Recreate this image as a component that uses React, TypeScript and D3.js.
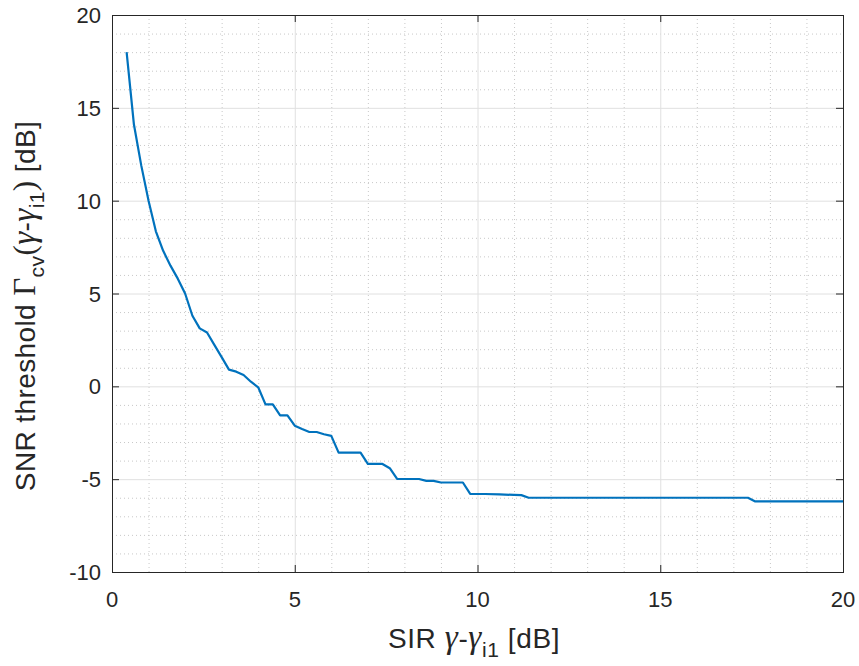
import React, { useEffect, useRef } from "react";
import * as d3 from "d3";

const sirDb = [0.4, 0.6, 0.8, 1.0, 1.2, 1.4, 1.6, 1.8, 2.0, 2.2, 2.4, 2.6, 2.8, 3.0, 3.2, 3.4, 3.6, 3.8, 4.0, 4.2, 4.4, 4.6, 4.8, 5.0, 5.2, 5.4, 5.6, 5.8, 6.0, 6.2, 6.4, 6.6, 6.8, 7.0, 7.2, 7.4, 7.6, 7.8, 8.0, 8.2, 8.4, 8.6, 8.8, 9.0, 9.2, 9.4, 9.6, 9.8, 10.0, 10.2, 10.6, 11.0, 11.2, 11.4, 12, 13, 14, 15, 16, 17, 17.4, 17.6, 18, 19, 20];
const snrThresholdDb = [18.0, 14.1, 11.9, 10.0, 8.35, 7.3, 6.5, 5.8, 5.0, 3.8, 3.12, 2.9, 2.23, 1.57, 0.9, 0.79, 0.61, 0.25, -0.05, -0.97, -0.97, -1.56, -1.56, -2.12, -2.3, -2.46, -2.46, -2.58, -2.67, -3.57, -3.57, -3.57, -3.57, -4.18, -4.18, -4.18, -4.41, -4.99, -4.99, -4.99, -4.99, -5.09, -5.09, -5.18, -5.18, -5.18, -5.18, -5.79, -5.8, -5.8, -5.82, -5.85, -5.86, -6.0, -6.0, -6.0, -6.0, -6.0, -6.0, -6.0, -6.0, -6.2, -6.2, -6.2, -6.2];
const xTicks = [0, 5, 10, 15, 20];
const yTicks = [-10, -5, 0, 5, 10, 15, 20];
const xMinor = d3.range(0, 21, 1);
const yMinor = d3.range(-10, 21, 1);

const W = 859, H = 666;
const L = 112, R = 843, T = 15, B = 572;
const sans = "Liberation Sans, Arial, sans-serif";
const serif = "Liberation Serif, Times New Roman, serif";

export default function App() {
  const ref = useRef<SVGGElement>(null);
  useEffect(() => {
    const g = d3.select(ref.current);
    g.selectAll("*").remove();
    const x = d3.scaleLinear().domain([0, 20]).range([L, R]);
    const y = d3.scaleLinear().domain([-10, 20]).range([B, T]);
    g.append("rect").attr("x", L).attr("y", T).attr("width", R - L).attr("height", B - T).attr("fill", "#fff");
    g.selectAll(".mx").data(xMinor.filter(v => v % 5 !== 0)).enter().append("line")
      .attr("x1", d => x(d) + 0.5).attr("x2", d => x(d) + 0.5).attr("y1", T).attr("y2", B)
      .attr("stroke", "#c8c8c8").attr("stroke-width", 1).attr("stroke-dasharray", "1,3");
    g.selectAll(".my").data(yMinor.filter(v => v % 5 !== 0)).enter().append("line")
      .attr("y1", d => y(d) + 0.5).attr("y2", d => y(d) + 0.5).attr("x1", L).attr("x2", R)
      .attr("stroke", "#c8c8c8").attr("stroke-width", 1).attr("stroke-dasharray", "1,3");
    g.selectAll(".gx").data(xTicks).enter().append("line")
      .attr("x1", d => x(d) + 0.5).attr("x2", d => x(d) + 0.5).attr("y1", T).attr("y2", B)
      .attr("stroke", "#e0e0e0").attr("stroke-width", 1);
    g.selectAll(".gy").data(yTicks).enter().append("line")
      .attr("y1", d => y(d) + 0.5).attr("y2", d => y(d) + 0.5).attr("x1", L).attr("x2", R)
      .attr("stroke", "#e0e0e0").attr("stroke-width", 1);
    const line = d3.line<number>().x((_, i) => x(sirDb[i])).y(d => y(d)).curve(d3.curveLinear);
    g.append("path").attr("d", line(snrThresholdDb)).attr("fill", "none")
      .attr("stroke", "#0072BD").attr("stroke-width", 2.2).attr("stroke-linejoin", "round");
    g.append("rect").attr("x", L + 0.5).attr("y", T + 0.5).attr("width", R - L).attr("height", B - T)
      .attr("fill", "none").attr("stroke", "#262626").attr("stroke-width", 1);
    const tl = 7;
    xTicks.forEach(v => {
      g.append("line").attr("x1", x(v) + 0.5).attr("x2", x(v) + 0.5).attr("y1", B).attr("y2", B - tl).attr("stroke", "#262626");
      g.append("line").attr("x1", x(v) + 0.5).attr("x2", x(v) + 0.5).attr("y1", T).attr("y2", T + tl).attr("stroke", "#262626");
      g.append("text").attr("x", x(v)).attr("y", B + 35).attr("text-anchor", "middle")
        .attr("font-family", sans).attr("font-size", 22).attr("fill", "#262626").text(String(v));
    });
    yTicks.forEach(v => {
      g.append("line").attr("y1", y(v) + 0.5).attr("y2", y(v) + 0.5).attr("x1", L).attr("x2", L + tl).attr("stroke", "#262626");
      g.append("line").attr("y1", y(v) + 0.5).attr("y2", y(v) + 0.5).attr("x1", R).attr("x2", R - tl).attr("stroke", "#262626");
      g.append("text").attr("x", L - 11).attr("y", y(v) + 8).attr("text-anchor", "end")
        .attr("font-family", sans).attr("font-size", 22).attr("fill", "#262626").text(String(v));
    });
  }, []);
  return (
    <svg width={W} height={H} style={{ display: "block", position: "absolute", left: 0, top: 0 }}>
      <g ref={ref} />
      <text x={474} y={648} textAnchor="middle" fontFamily={sans} fontSize={28} letterSpacing={0.6} fill="#262626">
        SIR <tspan fontFamily={serif} fontStyle="italic" fontSize={33}>γ</tspan>-<tspan fontFamily={serif} fontStyle="italic" fontSize={33}>γ</tspan>
        <tspan fontSize={21} dy={9}>i1</tspan><tspan dy={-9}> [dB]</tspan>
      </text>
      <text transform={`translate(35, 306) rotate(-90)`} textAnchor="middle" fontFamily={sans} fontSize={28} letterSpacing={0.4} fill="#262626">
        SNR threshold <tspan fontFamily={serif} fontSize={31}>Γ</tspan>
        <tspan fontSize={21} dy={9}>cv</tspan>
        <tspan dy={-9} fontFamily={serif} fontSize={31}>(</tspan>
        <tspan fontFamily={serif} fontStyle="italic" fontSize={33}>γ</tspan>
        <tspan>-</tspan>
        <tspan fontFamily={serif} fontStyle="italic" fontSize={33}>γ</tspan>
        <tspan fontSize={21} dy={9}>i1</tspan>
        <tspan dy={-9} fontFamily={serif} fontSize={31}>)</tspan> [dB]
      </text>
    </svg>
  );
}
